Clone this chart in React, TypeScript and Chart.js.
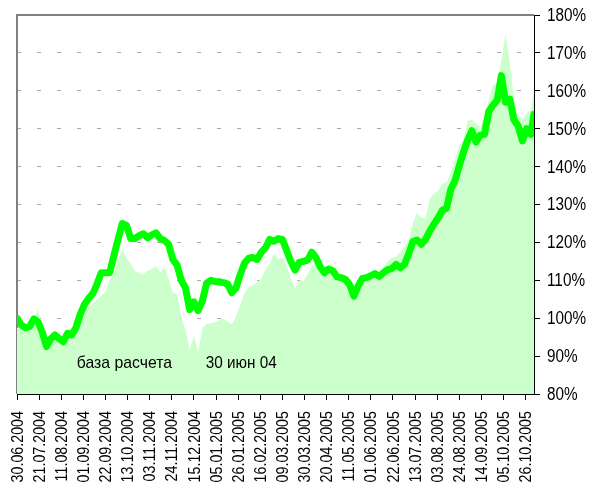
import React, { useEffect, useRef } from "react";
import { Chart, registerables } from "chart.js";

Chart.register(...registerables);

// Tick labels every 21 days starting 30.06.2004
const tickLabels = [
  "30.06.2004", "21.07.2004", "11.08.2004", "01.09.2004", "22.09.2004", "13.10.2004",
  "03.11.2004", "24.11.2004", "15.12.2004", "05.01.2005", "26.01.2005", "16.02.2005",
  "09.03.2005", "30.03.2005", "20.04.2005", "11.05.2005", "01.06.2005", "22.06.2005",
  "13.07.2005", "03.08.2005", "24.08.2005", "14.09.2005", "05.10.2005", "26.10.2005",
];
const TICK_STEP_DAYS = 21;
const SAMPLE_STEP_DAYS = 4;
const LAST_DAY = 491; // 03.11.2005

// Portfolio (thick green line), % of 30.06.2004, sampled every 4 days, last point on LAST_DAY
const lineValues = [
  100.0, 98.2, 97.5, 97.8, 99.8, 99.0, 96.3, 92.5, 94.5, 95.6,
  94.6, 93.8, 96.0, 95.6, 97.5, 101.0, 103.6, 105.2, 106.5, 109.0,
  112.0, 112.0, 112.0, 116.5, 120.8, 125.0, 124.5, 121.0, 121.0, 121.8,
  122.3, 121.2, 122.0, 122.5, 121.0, 120.5, 119.5, 115.5, 114.0, 110.0,
  108.0, 102.3, 104.3, 102.0, 104.5, 109.2, 110.0, 109.7, 109.6, 109.4,
  109.0, 106.7, 108.0, 111.5, 114.5, 115.8, 116.0, 115.5, 117.4, 118.6,
  120.8, 120.3, 121.0, 120.8, 118.0, 115.0, 112.7, 114.7, 115.0, 115.3,
  117.4, 116.0, 113.5, 112.0, 113.0, 112.5, 110.9, 110.7, 110.2, 108.8,
  105.8, 108.5, 110.5, 110.7, 111.2, 111.8, 111.0, 112.0, 112.8, 113.1,
  114.2, 113.3, 114.2, 117.0, 120.2, 120.6, 119.5, 120.8, 123.0, 124.8,
  126.5, 128.5, 129.0, 134.0, 136.3, 140.2, 143.8, 147.0, 149.5, 146.5,
  148.3, 148.5, 154.5, 156.2, 157.5, 164.0, 157.0, 157.8, 152.3, 150.7,
  146.8, 150.0, 148.5, 153.8,
];

// Benchmark index (light green area), same sampling
const areaValues = [
  97.5, 97.0, 96.5, 97.0, 100.0, 102.5, 96.0, 91.0, 93.5, 95.0,
  94.0, 93.0, 95.0, 95.0, 96.5, 99.5, 101.5, 103.0, 104.0, 105.0,
  106.0, 107.0, 110.0, 111.8, 115.5, 118.3, 116.0, 114.3, 112.5, 112.0,
  111.5, 112.5, 113.0, 113.8, 112.0, 113.5, 110.5, 106.6, 106.6, 100.0,
  97.0, 91.5, 95.5, 91.0, 97.3, 98.5, 98.7, 99.0, 99.5, 100.0,
  99.0, 98.4, 100.5, 103.5, 106.5, 108.2, 108.6, 109.5, 110.5, 112.8,
  114.5, 117.0, 115.5, 116.0, 114.0, 110.5, 108.0, 110.0, 109.8, 111.5,
  114.0, 114.5, 113.0, 111.0, 112.5, 112.0, 110.5, 110.0, 109.5, 108.0,
  105.0, 107.5, 110.0, 110.5, 111.0, 111.5, 111.0, 113.5, 115.0, 116.0,
  116.2, 117.5, 119.0, 120.5, 125.0, 127.8, 126.5, 126.4, 131.5, 133.0,
  133.5, 135.5, 135.8, 138.5, 142.0, 145.5, 147.0, 152.0, 152.5, 151.3,
  150.5, 153.5, 157.5, 161.5, 162.0, 168.0, 175.0, 167.5, 157.5, 153.5,
  152.5, 154.0, 155.0, 160.0,
];

const annotationTexts = ["база расчета", "30 июн 04"];
const annotationDays = [102, 213];
const annotationValues = [88.2, 88.1];
const annotationCondense = [0.93, 0.9];

const FONT = "'Liberation Sans', Arial, sans-serif";
const CONDENSE = 0.84;

function dayOf(i: number, n: number) {
  return i === n - 1 ? LAST_DAY : i * SAMPLE_STEP_DAYS;
}

export default function App() {
  const ref = useRef<HTMLCanvasElement>(null);
  useEffect(() => {
    if (!ref.current) return;
    const lineData = lineValues.map((v, i) => ({ x: dayOf(i, lineValues.length), y: v }));
    const areaData = areaValues.map((v, i) => ({ x: dayOf(i, areaValues.length), y: v }));

    const framePlugin = {
      id: "frame",
      beforeDatasetsDraw(chart: any) {
        const { ctx, chartArea } = chart;
        ctx.save();
        ctx.strokeStyle = "#808080";
        ctx.lineWidth = 2;
        ctx.beginPath();
        ctx.moveTo(chartArea.left, chartArea.bottom);
        ctx.lineTo(chartArea.left, chartArea.top);
        ctx.lineTo(chartArea.right, chartArea.top);
        ctx.stroke();
        ctx.restore();
      },
      afterDraw(chart: any) {
        const { ctx, chartArea } = chart;
        const xs = chart.scales.x;
        const ys = chart.scales.y;
        ctx.save();
        ctx.fillStyle = "#000";

        // annotations inside the plot
        ctx.font = `17px ${FONT}`;
        ctx.textAlign = "center";
        ctx.textBaseline = "middle";
        annotationTexts.forEach((t, i) => {
          ctx.save();
          ctx.translate(xs.getPixelForValue(annotationDays[i]), ys.getPixelForValue(annotationValues[i]));
          ctx.scale(annotationCondense[i], 1);
          ctx.fillText(t, 0, 0);
          ctx.restore();
        });

        // x tick labels, vertical
        ctx.font = `17px ${FONT}`;
        ctx.textAlign = "right";
        ctx.textBaseline = "middle";
        xs.ticks.forEach((tk: any) => {
          const idx = Math.round(tk.value / TICK_STEP_DAYS);
          const label = tickLabels[idx];
          if (!label) return;
          ctx.save();
          ctx.translate(xs.getPixelForValue(tk.value) + 1, chartArea.bottom + 17);
          ctx.rotate(-Math.PI / 2);
          ctx.scale(CONDENSE, 1);
          ctx.fillText(label, 0, 0);
          ctx.restore();
        });

        // y tick labels
        ctx.font = `18px ${FONT}`;
        ctx.textAlign = "left";
        ctx.textBaseline = "middle";
        ys.ticks.forEach((tk: any) => {
          ctx.save();
          ctx.translate(chartArea.right + 13, ys.getPixelForValue(tk.value) + 1);
          ctx.scale(0.85, 1);
          ctx.fillText(`${tk.value}%`, 0, 0);
          ctx.restore();
        });
        ctx.restore();
      },
    };

    const chart = new Chart(ref.current, {
      type: "line",
      data: {
        datasets: [
          {
            label: "line",
            data: lineData,
            borderColor: "#00FF00",
            borderWidth: 7,
            pointRadius: 0,
            fill: false,
            tension: 0,
            borderJoinStyle: "round",
            borderCapStyle: "round",
          },
          {
            label: "area",
            data: areaData,
            borderColor: "rgba(0,0,0,0)",
            borderWidth: 0,
            backgroundColor: "#CCFFCC",
            pointRadius: 0,
            fill: "start",
            tension: 0,
          },
        ],
      },
      options: {
        responsive: false,
        animation: false,
        events: [],
        layout: { padding: { left: 17, top: 15, right: 0, bottom: 0 } },
        plugins: { legend: { display: false }, tooltip: { enabled: false } },
        scales: {
          x: {
            type: "linear",
            min: 0,
            max: LAST_DAY,
            afterFit(scale: any) {
              scale.height = 94;
            },
            border: { color: "#000", width: 1 },
            grid: {
              drawOnChartArea: false,
              drawTicks: true,
              tickLength: 6,
              tickColor: "#000",
              tickWidth: 1,
            },
            ticks: {
              display: false,
              stepSize: TICK_STEP_DAYS,
              includeBounds: false,
              autoSkip: false,
            },
          },
          y: {
            position: "right",
            min: 80,
            max: 180,
            afterFit(scale: any) {
              scale.width = 56;
            },
            border: { color: "#000", width: 1, dash: [4, 16] },
            grid: {
              drawTicks: true,
              tickLength: 6,
              tickColor: "#000",
              tickWidth: 1,
              tickBorderDash: [1, 0],
              color: (c: any) =>
                c.tick && (c.tick.value === 80 || c.tick.value === 180) ? "rgba(0,0,0,0)" : "#a8a8a8",
              lineWidth: 1,
            },
            ticks: {
              display: false,
              stepSize: 10,
            },
          },
        },
      } as any,
      plugins: [framePlugin],
    });
    return () => chart.destroy();
  }, []);

  return (
    <div style={{ position: "fixed", left: 0, top: 0, width: 590, height: 488, background: "#fff" }}>
      <canvas ref={ref} width={590} height={488} style={{ display: "block" }} />
    </div>
  );
}
